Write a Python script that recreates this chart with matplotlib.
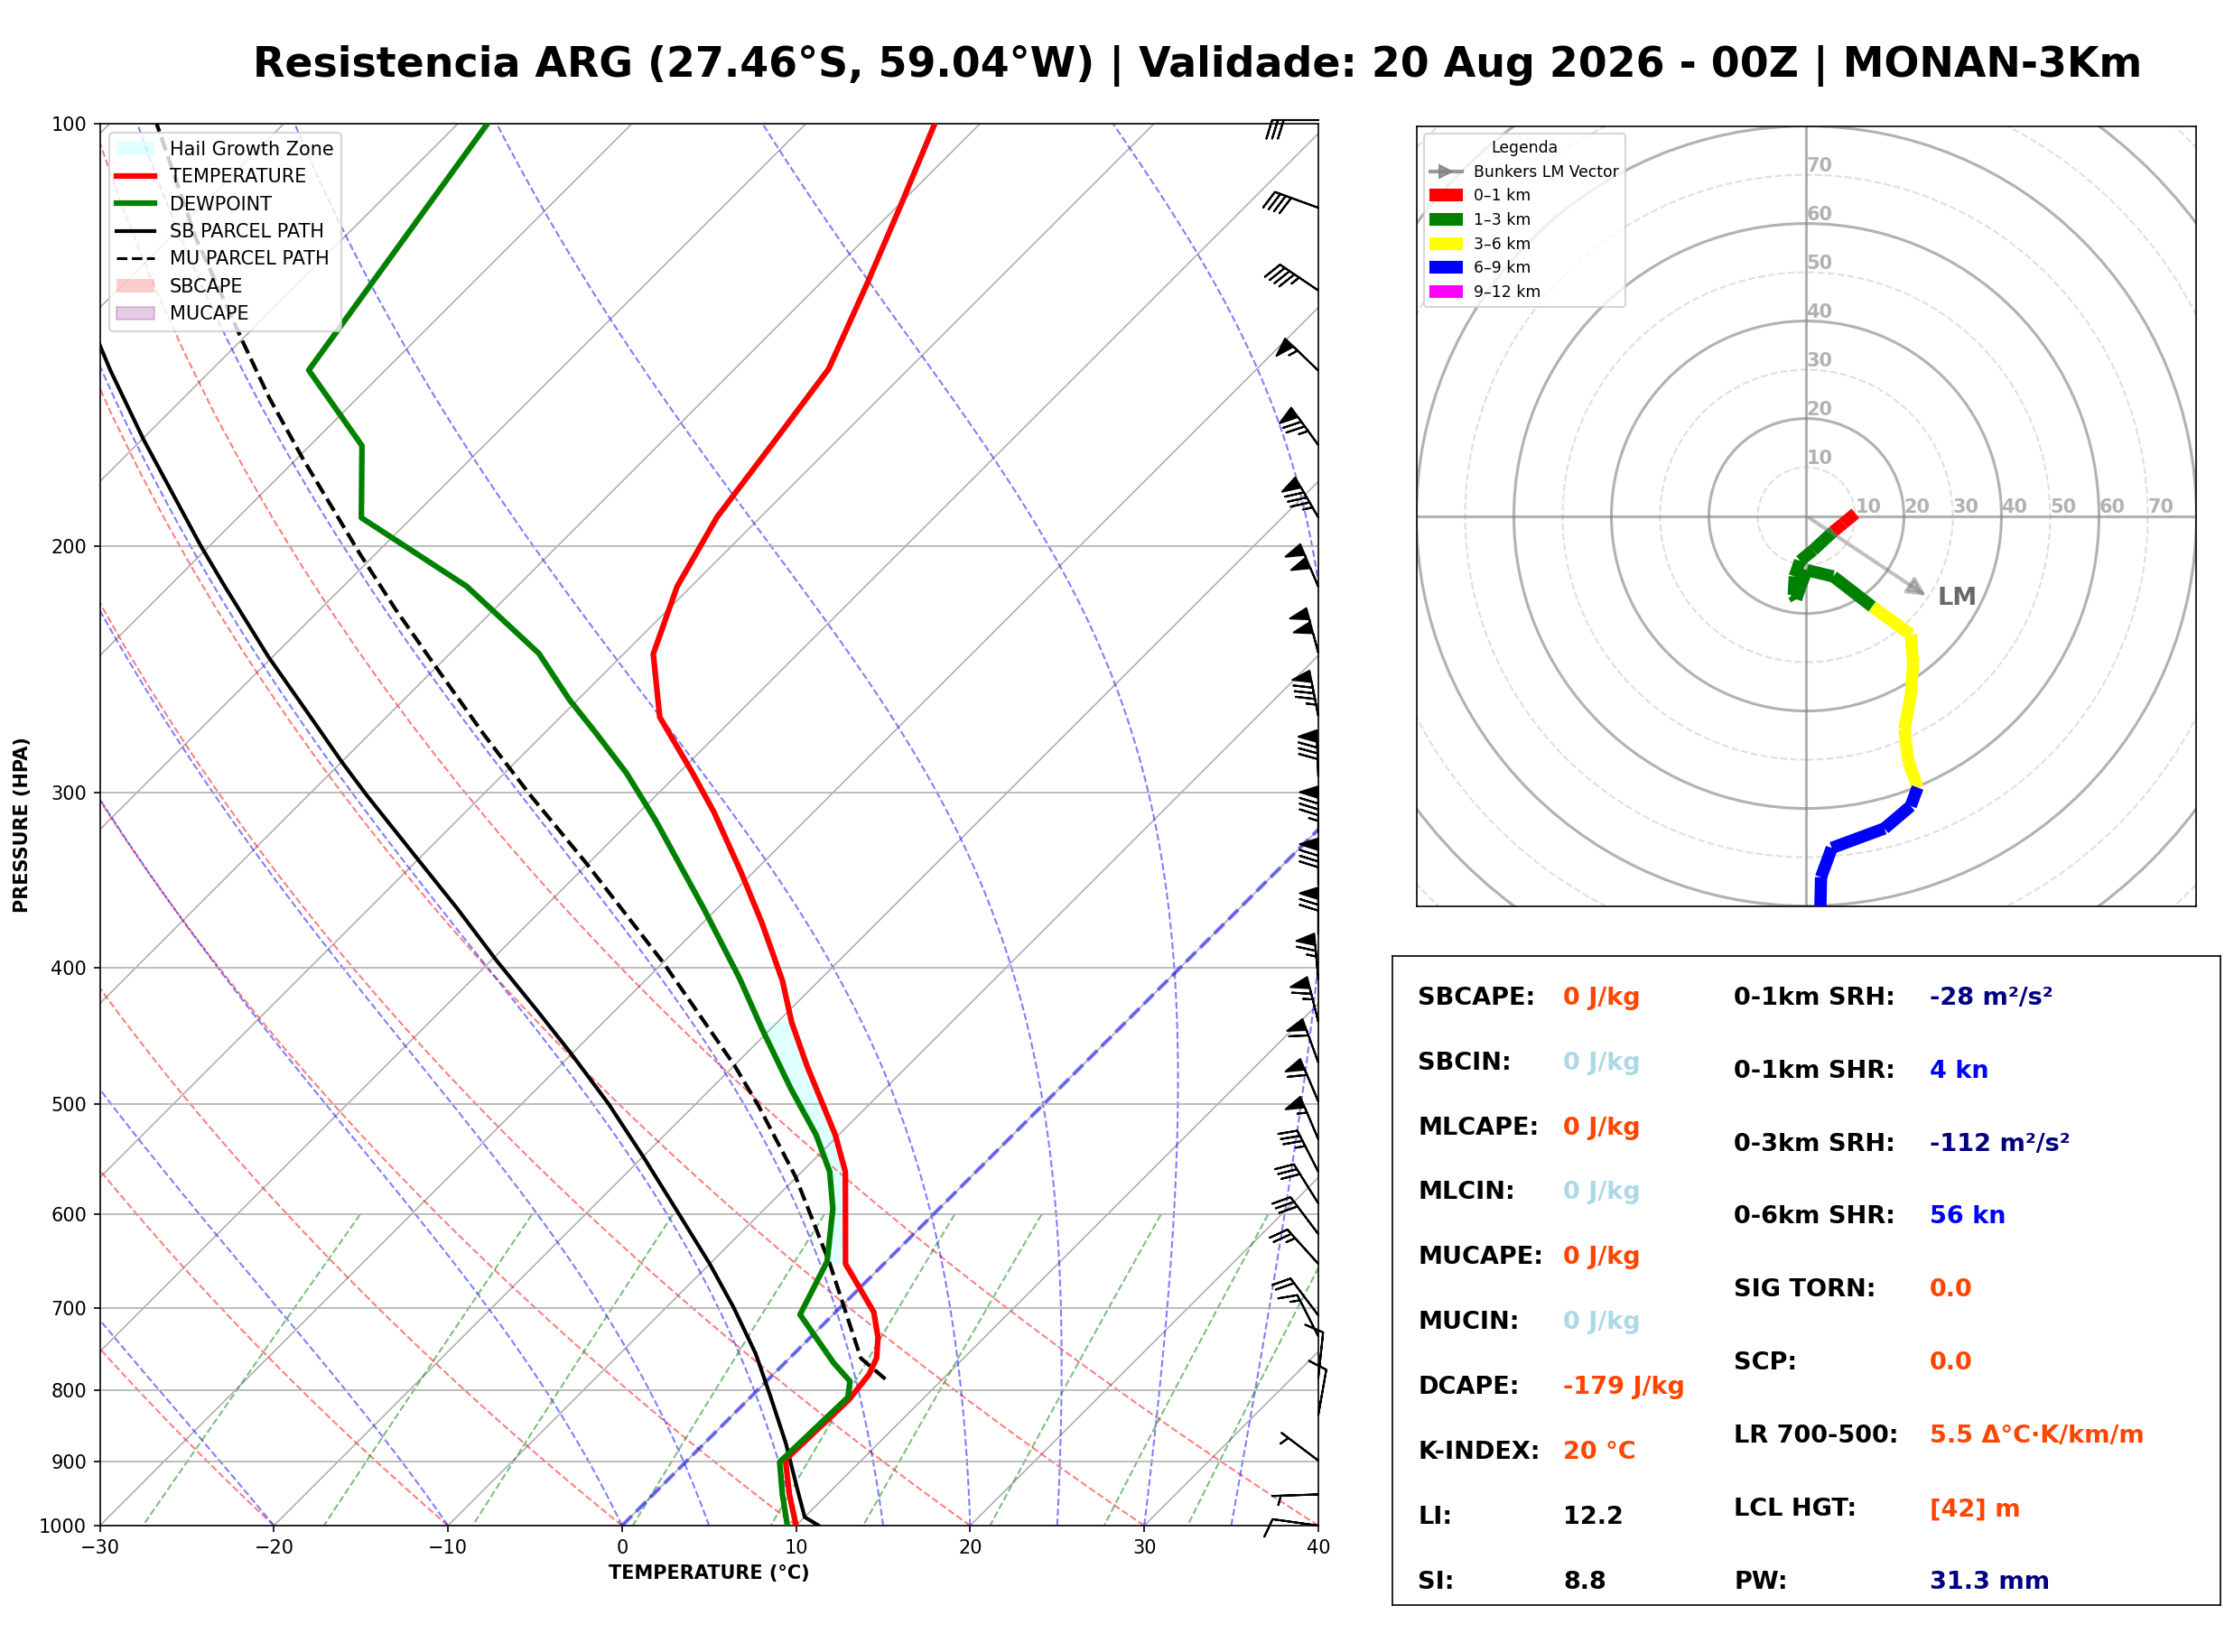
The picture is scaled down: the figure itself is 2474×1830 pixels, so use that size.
import numpy as np
import matplotlib
matplotlib.use('Agg')
import matplotlib.pyplot as plt
import matplotlib.transforms as mtransforms
from matplotlib.collections import LineCollection
from matplotlib.patches import Patch, Circle
from matplotlib.lines import Line2D
from matplotlib.ticker import NullLocator

# ---------------- sounding ----------------
pres_t = [1000, 949.6, 897.4, 813.2, 780.0, 759.6, 734.3, 704.3, 650.6, 559.3, 526.4,
          469.9, 437.3, 408.6, 371.6, 342.0, 309.9, 290.5, 265.0, 238.9, 213.9, 190.8,
          167.7, 149.6, 130.0, 114.7, 100.0]
temp = [10.0, 7.8, 5.6, 5.8, 5.5, 5.0, 3.9, 2.2, -2.2, -7.5, -10.2,
        -15.8, -19.2, -22.1, -26.6, -30.7, -35.7, -39.2, -44.3, -48.3, -50.8, -52.5,
        -53.6, -54.6, -57.3, -59.8, -62.6]

pres_td = [1000, 949.6, 900.8, 810.0, 788.9, 765.4, 707.1, 648.0, 594.2, 559.3, 526.4,
           488.0, 442.3, 407.0, 363.4, 314.0, 290.5, 271.8, 257.5, 238.7, 213.8, 191.0,
           169.7, 149.9, 100.0]
dewp = [9.5, 7.4, 5.4, 5.6, 4.8, 2.8, -1.9, -3.4, -6.1, -8.4, -11.3,
        -15.4, -20.5, -24.7, -30.7, -38.6, -43.0, -47.1, -50.5, -54.9, -62.9, -72.9,
        -77.0, -84.4, -88.3]

# parcel paths
sb_p = [1000, 986, 942.4, 873.9, 807, 754, 699.2, 650.6, 595.6, 547.3, 500.3, 460.2,
        430, 395.2, 363.1, 333.8, 301.5, 285.2, 264.8, 239.8, 213.8, 199.7, 168, 149.9,
        143.4, 120.6]
sb_t = [11.3, 10.0, 8.0, 4.7, 1.0, -2.2, -6.1, -10.0, -15.0, -19.8, -25.0, -30.1,
        -34.35, -39.7, -44.9, -50.2, -56.6, -60.0, -64.4, -70.3, -76.8, -80.6, -89.9, -95.8,
        -98.0, -106.5]

mu_p = [786, 759.6, 650.6, 563.6, 502.6, 469.5, 397.2, 337, 301.5, 272.7, 243.4, 221.9,
        202.7, 173.2, 156.8, 143.4, 120.6, 100]
mu_t = [6.7, 4.1, -3.1, -10.1, -16.2, -20.0, -29.9, -40.1, -47.2, -53.4, -60.2, -65.7,
        -70.9, -79.7, -85.1, -89.7, -98.5, -107.3]

hgz_top, hgz_bot = 437.0, 650.0

# wind barbs
barb_p = [99.4, 114.8, 131.5, 150, 169.5, 190.9, 213.9, 238.4, 264.5, 292.1, 320.3, 348.9,
          378.2, 407.8, 437.1, 467.3, 498.2, 530.1, 559.2, 589.0, 619.4, 650.5, 707.9,
          732.6, 785, 834, 898.6, 950, 1000]
barb_spd = [30, 40, 45, 55, 75, 85, 100, 100, 85, 80, 85, 80,
            70, 65, 65, 60, 60, 55, 35, 30, 30, 25, 20,
            15, 10, 10, 5, 5, 10]
barb_dir = [270, 290, 304, 314, 324, 330, 337, 345, 349, 358, 0, 0,
            0, 355, 346, 340, 337, 337, 333, 328, 323, 318, 323,
            333, 6, 10, 307, 268, 278]

# hodograph (kn)
hodo_layers = ['0–1 km', '1–3 km', '3–6 km', '6–9 km', '9–12 km']
hodo_colors = ['red', 'green', 'yellow', 'blue', 'magenta']
hodo_u = [[10.05, 7.6, 5.5],
          [5.5, 1.4, -1.3, -2.4, -2.6, -2.1, -1.3, 0.1, 5.5, 13.5],
          [13.5, 21.4, 21.9, 21.4, 20.1, 20.9, 22.8],
          [22.8, 21.4, 16.0, 5.2, 3.0, 2.8],
          []]
hodo_v = [[0.54, -1.5, -3.2],
          [-3.2, -7.0, -9.2, -12.4, -16.2, -17.1, -14.6, -11.1, -12.4, -18.6],
          [-18.6, -24.3, -30.3, -36.8, -43.8, -50.3, -55.7],
          [-55.7, -59.5, -64.1, -68.1, -74.1, -83.2],
          []]
lm_u, lm_v = 25.2, -16.8

title = 'Resistencia ARG (27.46°S, 59.04°W) | Validade: 20 Aug 2026 - 00Z | MONAN-3Km'

left_rows = [('SBCAPE:', '0 J/kg', 'orangered'), ('SBCIN:', '0 J/kg', 'lightblue'),
             ('MLCAPE:', '0 J/kg', 'orangered'), ('MLCIN:', '0 J/kg', 'lightblue'),
             ('MUCAPE:', '0 J/kg', 'orangered'), ('MUCIN:', '0 J/kg', 'lightblue'),
             ('DCAPE:', '-179 J/kg', 'orangered'), ('K-INDEX:', '20 °C', 'orangered'),
             ('LI:', '12.2', 'black'), ('SI:', '8.8', 'black')]
right_rows = [('0-1km SRH:', '-28 m²/s²', 'navy'), ('0-1km SHR:', '4 kn', 'blue'),
              ('0-3km SRH:', '-112 m²/s²', 'navy'), ('0-6km SHR:', '56 kn', 'blue'),
              ('SIG TORN:', '0.0', 'orangered'), ('SCP:', '0.0', 'orangered'),
              ('LR 700-500:', '5.5 Δ°C·K/km/m', 'orangered'), ('LCL HGT:', '[42] m', 'orangered'),
              ('PW:', '31.3 mm', 'navy')]

# ---------------- figure ----------------
W, H = 2474, 1830
fig = plt.figure(figsize=(W / 150, H / 150), dpi=150)
fig.text(0.536, 0.960, title, ha='center', va='center', fontsize=22, fontweight='bold')

ax = fig.add_axes([0.0447, 0.0765, 0.5454, 0.8486])
ax.set_yscale('log')
ax.set_ylim(1000, 100)
ax.set_xlim(-30, 40)
bb = ax.get_position()
K = 70.0 * (bb.height * H) / (bb.width * W)   # 45 deg skew


def skew(t, p):
    return np.asarray(t, float) + K * np.log10(1000.0 / np.asarray(p, float))


ax.set_yticks([100, 200, 300, 400, 500, 600, 700, 800, 900, 1000])
ax.set_yticklabels(['100', '200', '300', '400', '500', '600', '700', '800', '900', '1000'])
ax.yaxis.set_minor_locator(NullLocator())
ax.set_xticks(range(-30, 41, 10))
ax.tick_params(labelsize=10)
ax.grid(True, axis='y', color='#b0b0b0', lw=0.8)
ax.set_xlabel('TEMPERATURE (°C)', fontsize=10, fontweight='bold')
ax.set_ylabel('PRESSURE (HPA)', fontsize=10, fontweight='bold')

# skewed isotherm grid
for t in range(-120, 41, 10):
    ax.plot(skew([t, t], [1000, 100]), [1000, 100], color='#b0b0b0', lw=0.8, zorder=1)

# dry adiabats
p_ad = np.linspace(1000, 100, 60)
segs = []
for t0 in range(-30, 41, 10):
    tt = (t0 + 273.15) * (p_ad / 1000.0) ** 0.2857 - 273.15
    segs.append(np.column_stack([skew(tt, p_ad), p_ad]))
ax.add_collection(LineCollection(segs, colors='r', linestyles='dashed', alpha=0.5, lw=1, zorder=1))


# moist adiabats
def lapse(p, t):
    es = 6.112 * np.exp(17.67 * (t - 273.15) / (t - 29.65))
    rs = 0.622 * es / (p - es)
    num = (287.04 * t + 2.501e6 * rs) / p
    den = 1004.6 + (2.501e6 ** 2 * rs * 0.622) / (287.04 * t ** 2)
    return num / den


t0_moist = np.array([-30, -20, -10, 0, 5, 10, 15, 20, 25, 30, 35, 40], float)
p_m = np.linspace(1000, 100, 300)
tk = t0_moist + 273.15
rows = [tk.copy()]
for i in range(len(p_m) - 1):
    h = p_m[i + 1] - p_m[i]
    k1 = lapse(p_m[i], tk)
    k2 = lapse(p_m[i] + h / 2, tk + h / 2 * k1)
    k3 = lapse(p_m[i] + h / 2, tk + h / 2 * k2)
    k4 = lapse(p_m[i + 1], tk + h * k3)
    tk = tk + h / 6 * (k1 + 2 * k2 + 2 * k3 + k4)
    rows.append(tk.copy())
moist = np.array(rows) - 273.15
segs = [np.column_stack([skew(moist[:, j], p_m), p_m]) for j in range(len(t0_moist))]
ax.add_collection(LineCollection(segs, colors='b', linestyles='dashed', alpha=0.5, lw=1, zorder=1))

# mixing ratio lines
p_mix = np.linspace(600, 1000, 50)
segs = []
for w in [0.0004, 0.001, 0.002, 0.004, 0.007, 0.01, 0.016, 0.024, 0.032]:
    e = p_mix * w / (0.622 + w)
    lg = np.log(e / 6.112)
    td = 243.5 * lg / (17.67 - lg)
    segs.append(np.column_stack([skew(td, p_mix), p_mix]))
ax.add_collection(LineCollection(segs, colors='g', linestyles='dashed', alpha=0.5, lw=1, zorder=1))

# 0 C isotherm
ax.plot(skew([0, 0], [1000, 100]), [1000, 100], color='b', ls='--', lw=2, alpha=0.5, zorder=2)

# hail growth zone
lp_t = np.log(np.array(pres_t))[::-1]
lp_d = np.log(np.array(pres_td))[::-1]
p_h = np.geomspace(hgz_top, hgz_bot, 80)
t_h = np.interp(np.log(p_h), lp_t, np.array(temp)[::-1])
d_h = np.interp(np.log(p_h), lp_d, np.array(dewp)[::-1])
ax.fill_betweenx(p_h, skew(d_h, p_h), skew(t_h, p_h), color='cyan', alpha=0.12, lw=0, zorder=2)

ax.plot(skew(temp, pres_t), pres_t, color='red', lw=3, zorder=4)
ax.plot(skew(dewp, pres_td), pres_td, color='green', lw=3, zorder=4)
ax.plot(skew(sb_t, sb_p), sb_p, color='black', lw=2, zorder=3)
ax.plot(skew(mu_t, mu_p), mu_p, color='black', ls='--', lw=2, zorder=3)

# barbs on right edge
rad = np.deg2rad(barb_dir)
bu = -np.array(barb_spd) * np.sin(rad)
bv = -np.array(barb_spd) * np.cos(rad)
trans = mtransforms.blended_transform_factory(ax.transAxes, ax.transData)
ax.barbs(np.ones(len(barb_p)), barb_p, bu, bv, transform=trans, clip_on=False,
         flip_barb=True, length=7, zorder=5)

handles = [Patch(facecolor='cyan', alpha=0.12, label='Hail Growth Zone'),
           Line2D([], [], color='red', lw=3, label='TEMPERATURE'),
           Line2D([], [], color='green', lw=3, label='DEWPOINT'),
           Line2D([], [], color='black', lw=2, label='SB PARCEL PATH'),
           Line2D([], [], color='black', lw=1.5, ls='--', label='MU PARCEL PATH'),
           Patch(facecolor='red', alpha=0.2, label='SBCAPE'),
           Patch(facecolor='purple', edgecolor='purple', alpha=0.2, label='MUCAPE')]
ax.legend(handles=handles, loc='upper left', fontsize=10)

# ---------------- hodograph ----------------
hx = fig.add_axes([0.6340, 0.4516, 0.3492, 0.4721])
hx.set_xlim(-80, 80)
hx.set_ylim(-80, 80)
hx.set_xticks([])
hx.set_yticks([])
for r in range(10, 120, 10):
    if r % 20 == 0:
        hx.add_patch(Circle((0, 0), r, fill=False, color='gray', alpha=0.6, lw=1.5))
    else:
        hx.add_patch(Circle((0, 0), r, fill=False, color='gray', alpha=0.25, lw=1, ls='--'))
hx.axhline(0, color='gray', alpha=0.6, lw=1.5)
hx.axvline(0, color='gray', alpha=0.6, lw=1.5)
for r in range(10, 80, 10):
    hx.text(r, 0, str(r), ha='left', va='bottom', fontsize=10, fontweight='bold',
            color='gray', alpha=0.6)
    hx.text(0, r, str(r), ha='left', va='bottom', fontsize=10, fontweight='bold',
            color='gray', alpha=0.6)

for uu, vv, col in zip(hodo_u, hodo_v, hodo_colors):
    if len(uu) < 2:
        continue
    pts = np.column_stack([uu, vv])
    segs = [pts[i:i + 2] for i in range(len(pts) - 1)]
    hx.add_collection(LineCollection(segs, colors=col, lw=6.5, capstyle='butt', zorder=4))

hx.annotate('', xy=(lm_u, lm_v), xytext=(0, 0),
            arrowprops=dict(arrowstyle='-|>', color='gray', lw=2, alpha=0.5, mutation_scale=20),
            zorder=5)
hx.text(lm_u + 1.6, lm_v - 0.2, 'LM', fontsize=13, fontweight='bold', color='dimgray',
        ha='left', va='center')

h_handles = [Line2D([], [], color='gray', lw=2, alpha=0.8, marker='>', markersize=7,
                    label='Bunkers LM Vector')]
for lab, col in zip(hodo_layers, hodo_colors):
    h_handles.append(Patch(color=col, label=lab))
hx.legend(handles=h_handles, loc='upper left', fontsize=8.3, title='Legenda', title_fontsize=8.3)

# ---------------- indices box ----------------
tx = fig.add_axes([0.6232, 0.0282, 0.3706, 0.3932])
tx.set_xticks([])
tx.set_yticks([])
tx.set_xlim(0, 1)
tx.set_ylim(0, 1)
for y, (lab, val, col) in zip(np.linspace(0.935, 0.035, len(left_rows)), left_rows):
    tx.text(0.031, y, lab, fontsize=13, fontweight='bold', va='center', ha='left')
    tx.text(0.2065, y, val, fontsize=13, fontweight='bold', va='center', ha='left', color=col)
for y, (lab, val, col) in zip(np.linspace(0.935, 0.035, len(right_rows)), right_rows):
    tx.text(0.413, y, lab, fontsize=13, fontweight='bold', va='center', ha='left')
    tx.text(0.649, y, val, fontsize=13, fontweight='bold', va='center', ha='left', color=col)

fig.savefig('out.png', dpi=150)
